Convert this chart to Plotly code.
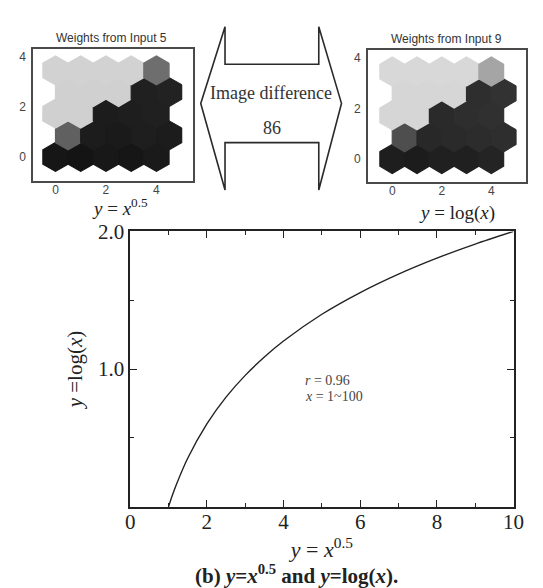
import math
import plotly.graph_objects as go

W, H = 543, 588

# ---------------- data ----------------
# main curve: y = x^0.5 (horizontal) against y = log(x) (vertical), x = 1..100
sqrt_vals = [1.0, 1.1, 1.2, 1.5, 2.0, 2.5, 3.0, 3.5, 4.0, 5.0, 6.0, 7.0, 8.0, 9.0, 10.0]
log_vals = [0.0, 0.083, 0.158, 0.352, 0.602, 0.796, 0.954, 1.088, 1.204, 1.398, 1.556, 1.690, 1.806, 1.908, 2.0]
main_xticks = [0, 2, 4, 6, 8, 10]
main_yticks = [1.0, 2.0]
main_ytick_text = ["1.0", "2.0"]

# SOM weight planes (rows bottom -> top, 5 neurons per row), grey level 0-255
plane_input5 = [
    [22, 20, 24, 22, 26],
    [96, 28, 26, 30, 28],
    [208, 208, 28, 30, 32],
    [208, 208, 208, 32, 34],
    [210, 210, 210, 210, 110],
]
plane_input9 = [
    [30, 28, 32, 32, 36],
    [78, 40, 42, 44, 46],
    [214, 214, 42, 46, 48],
    [214, 214, 214, 46, 50],
    [216, 216, 216, 216, 165],
]
plane_ticks = [0, 2, 4]
plane_titles = ["Weights from Input 5", "Weights from Input 9"]
diff_label = "Image difference"
diff_value = 86
stats = ["<i>r</i> = 0.96", "<i>x</i> = 1~100"]

SERIF = "Liberation Serif, Times New Roman, serif"
SANS = "Liberation Sans Narrow, Arial Narrow, Liberation Sans, Arial, sans-serif"


def dom_x(a, b):
    return [a / W, b / W]


def dom_y(top, bottom):
    return [1 - bottom / H, 1 - top / H]


fig = go.Figure()

# main curve
fig.add_trace(go.Scatter(
    x=sqrt_vals, y=log_vals, mode="lines",
    line=dict(color="#222", width=1.4, shape="spline", smoothing=0.8),
    xaxis="x", yaxis="y", showlegend=False, hoverinfo="skip"))

# hexagonal planes
R = 1 / math.sqrt(3)


def add_plane(plane, xa, ya):
    for j, row in enumerate(plane):
        for i, g in enumerate(row):
            cx = i + 0.5 * (j % 2)
            cy = j * math.sqrt(3) / 2
            xs = [cx + R * math.cos(math.radians(30 + 60 * k)) for k in range(7)]
            ys = [cy + R * math.sin(math.radians(30 + 60 * k)) for k in range(7)]
            c = f"rgb({g},{g},{g})"
            fig.add_trace(go.Scatter(
                x=xs, y=ys, mode="lines", fill="toself", fillcolor=c,
                line=dict(color=c, width=1.2), xaxis=xa, yaxis=ya,
                showlegend=False, hoverinfo="skip"))


add_plane(plane_input5, "x2", "y2")
add_plane(plane_input9, "x3", "y3")

plane_axis = dict(
    showgrid=False, zeroline=False, showline=True, linecolor="#4a4a4a", linewidth=1.6,
    mirror=True, ticks="", tickvals=plane_ticks,
    tickfont=dict(family=SANS, size=12, color="#444"))

fig.update_layout(
    width=W, height=H, margin=dict(l=0, r=0, t=0, b=0),
    paper_bgcolor="white", plot_bgcolor="white",
    xaxis=dict(
        domain=dom_x(129, 524), range=[0, 10], tickvals=main_xticks,
        ticks="inside", ticklen=7, tickwidth=1, tickcolor="#222",
        minor=dict(ticks="inside", ticklen=4, dtick=1, tickcolor="#222"),
        showline=True, linecolor="#222", linewidth=1.5, mirror="ticks",
        showgrid=False, zeroline=False, ticklabelstandoff=-5,
        tickfont=dict(family=SERIF, size=21, color="#222"),
        title=dict(text="<i>y</i> = <i>x</i><sup>0.5</sup>",
                   font=dict(family=SERIF, size=22, color="#222"), standoff=0),
        anchor="y"),
    yaxis=dict(
        domain=dom_y(224, 505), range=[0, 2], tickvals=main_yticks, ticktext=main_ytick_text,
        ticks="inside", ticklen=7, tickwidth=1, tickcolor="#222",
        minor=dict(ticks="inside", ticklen=4, dtick=0.5, tickcolor="#222"),
        showline=True, linecolor="#222", linewidth=1.5, mirror="ticks",
        showgrid=False, zeroline=False,
        tickfont=dict(family=SERIF, size=21, color="#222"),
        title=dict(text="<i>y</i> =log(<i>x</i>)",
                   font=dict(family=SERIF, size=21, color="#222"), standoff=10),
        anchor="x"),
    xaxis2=dict(plane_axis, domain=dom_x(29, 194), range=[-0.885, 5.46], anchor="y2",
                ticklabelstandoff=-4),
    yaxis2=dict(plane_axis, domain=dom_y(38, 173), range=[-0.98, 4.31], anchor="x2",
                ticklabelstandoff=3),
    xaxis3=dict(plane_axis, domain=dom_x(374, 537), range=[-0.98, 5.41], anchor="y3",
                ticklabelstandoff=-4),
    yaxis3=dict(plane_axis, domain=dom_y(39, 174), range=[-0.93, 4.31], anchor="x3",
                ticklabelstandoff=3),
)


def px(x, y):
    return f"{x / W:.5f},{1 - y / H:.5f}"


# double-headed arrow between the planes
arrow_pts = [(201.7, 93.3), (226.7, 15), (226.7, 53.3), (323.3, 53.3), (323.3, 15),
             (346.7, 93.3), (323.3, 181.7), (323.3, 133.3), (226.7, 133.3), (226.7, 181.7)]
path = "M " + " L ".join(px(x, y) for x, y in arrow_pts) + " Z"
fig.add_shape(type="path", path=path, xref="paper", yref="paper",
              line=dict(color="#2a2a2a", width=1.6), fillcolor="rgba(0,0,0,0)")

ann = []


def add_text(text, x, y, size, family=SERIF, color="#222", xanchor="center", **kw):
    ann.append(dict(text=text, x=x / W, y=1 - y / H, xref="paper", yref="paper",
                    showarrow=False, font=dict(family=family, size=size, color=color),
                    xanchor=xanchor, yanchor="middle", **kw))


add_text(plane_titles[0], 110, 27, 12, family=SANS, color="#333")
add_text(plane_titles[1], 455, 28, 12, family=SANS, color="#333")
add_text(diff_label, 274, 83, 18, color="#333")
add_text(str(diff_value), 275, 118, 18, color="#333")
add_text("<i>y</i> = <i>x</i><sup>0.5</sup>", 119, 199, 19)
add_text("<i>y</i> = log(<i>x</i>)", 466, 205, 19)
add_text(stats[0], 307, 376, 14, color="#444", xanchor="left")
add_text(stats[1], 307, 392, 14, color="#444", xanchor="left")
add_text("<b>(b) <i>y</i>=<i>x</i><sup>0.5</sup> and <i>y</i>=log(<i>x</i>).</b>", 300, 574, 21)

fig.update_layout(annotations=ann)

fig.write_html("out.html", config={"displayModeBar": False},
               post_script="document.body.style.margin='0';")
